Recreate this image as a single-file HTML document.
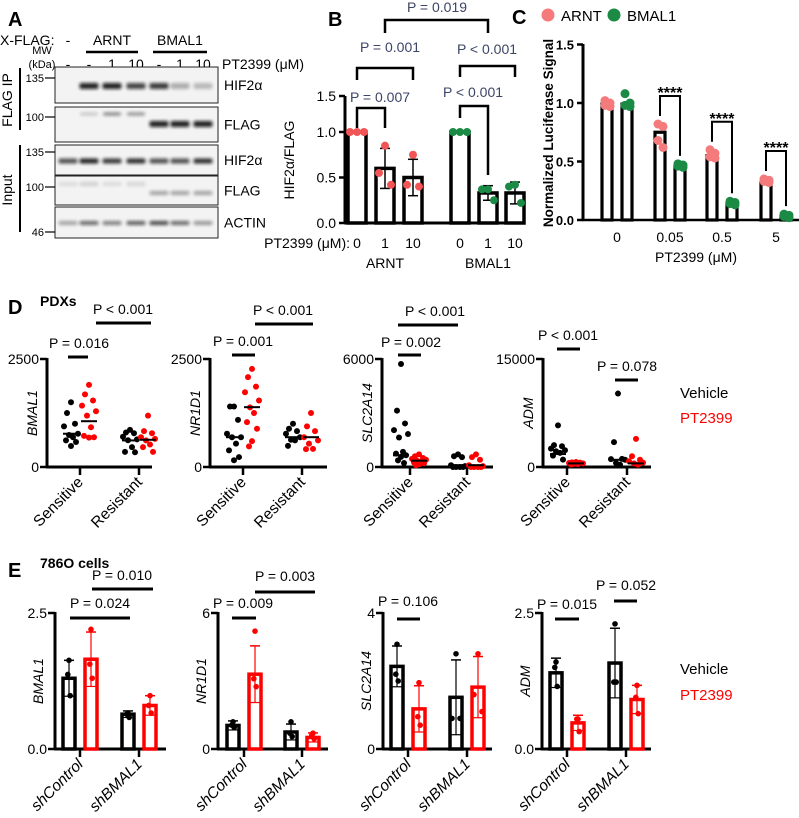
<!DOCTYPE html>
<html><head><meta charset="utf-8"><style>
body{margin:0;background:#fff}
svg{display:block;font-family:"Liberation Sans",Arial,sans-serif}
</style></head><body>
<svg id="fig" width="799" height="818" viewBox="0 0 799 818">
<defs><filter id="bl" x="-20%" y="-100%" width="140%" height="300%"><feGaussianBlur stdDeviation="1.6"/></filter></defs>
</svg>
<script>
// ===== Panel B data =====
const bCats=['0','1','10','0','1','10'];
const bMeans=[1,0.6,0.5,1,0.33,0.33];
const bErr=[0,0.22,0.2,0,0.08,0.12];
const bDots=[[1,1,1],[0.85,0.55,0.42],[0.75,0.42,0.4],[1,1,1],[0.37,0.37,0.25],[0.42,0.4,0.22]];
// ===== Panel C data =====
const cCats=['0','0.05','0.5','5'];
const cArnt=[0.99,0.75,0.55,0.32];
const cBmal=[0.99,0.46,0.14,0.03];
const cArntDots=[[1.02,1.0,0.98,0.97],[0.82,0.8,0.68,0.62],[0.6,0.57,0.54,0.53],[0.35,0.34,0.33,0.32]];
const cBmalDots=[[1.08,1.0,0.98,0.97],[0.48,0.47,0.46,0.45],[0.16,0.15,0.14,0.13],[0.05,0.04,0.03,0.02]];
// ===== Panel D data (Sensitive / Resistant; vehicle / PT2399) =====
const dGenes=['BMAL1','NR1D1','SLC2A14','ADM'];
const dMax=[2500,2500,6000,15000];
const dVehS=[[1500,1250,1000,940,770,740,690,615,580,485],[1400,1400,1090,770,690,690,540,385,230,155],[5720,3130,2420,2050,1830,1640,840,745,650,560,370,220],[5780,3030,2890,2560,2330,2190,1960,1580,1025]];
const dPtS=[[1900,1680,1540,1420,1290,1190,920,720,690,680],[2270,2080,1860,1730,1540,1380,1250,1040,885,600,477],[700,600,500,450,400,350,300,250,200,150,100],[700,650,600,550,500,450,400,350]];
const dVehR=[[860,800,780,700,640,620,460,350,340],[1000,885,830,770,690,630,615,490],[700,600,550,100,50,0,0,0,0],[10200,3450,1120,1100,1000,560,330]];
const dPtR=[[1190,830,780,690,650,615,520,460,350],[1250,940,830,690,615,540,420,415],[700,550,400,100,50,0,0,0,0],[3900,1490,1000,800,600,500,330]];
const dMedVS=[770,690,650,1800],dMedPS=[1060,1385,350,500],dMedVR=[615,690,100,1000],dMedPR=[630,690,100,500];
// ===== Panel E data =====
const eGenes=['BMAL1','NR1D1','SLC2A14','ADM'];
const eMax=[2.5,6,4,2.5];
const eTicks=[['0.0','2.5'],['0','6'],['0','4'],['0.0','2.5']];
const eGroups=['shControl','shBMAL1'];
const eVehMean=[[1.3,0.64],[1.04,0.75],[2.43,1.52],[1.4,1.58]];
const ePtMean=[[1.65,0.8],[3.3,0.51],[1.18,1.82],[0.48,0.91]];
const eVehErr=[[0.33,0.06],[0.2,0.35],[0.6,1.1],[0.27,0.64]];
const ePtErr=[[0.5,0.18],[1.25,0.2],[0.68,0.9],[0.14,0.26]];
const eVehDots=[[[1.63,1.37,0.98],[0.66,0.64,0.58]],[[1.2,1.05,0.95],[1.2,0.7,0.55]],[[3.08,2.2,2.0],[2.8,0.9,0.9]],[[1.6,1.5,1.15],[2.3,1.23,1.23]]];
const ePtDots=[[[2.2,1.56,1.3],[0.98,0.8,0.66]],[[5.2,3.1,2.75],[0.7,0.6,0.45]],[[1.95,0.95,0.7],[2.8,1.6,1.1]],[[0.55,0.55,0.32],[1.17,0.95,0.65]]];

const svg=document.getElementById('fig');
const NS='http://www.w3.org/2000/svg';
function mk(tag,attrs,parent){const e=document.createElementNS(NS,tag);for(const k in attrs)e.setAttribute(k,attrs[k]);(parent||svg).appendChild(e);return e;}
function txt(x,y,s,o,name){o=o||{};const e=mk('text',{x:x,y:y,'font-size':o.fs||14,'text-anchor':o.a||'start',fill:o.c||'#000','font-weight':o.w||'normal','font-style':o.i?'italic':'normal'});if(o.r)e.setAttribute('transform','rotate('+o.r+' '+x+' '+y+')');e.textContent=s;


return e;}
function ln(x1,y1,x2,y2,w,c,name){const e=mk('line',{x1:x1,y1:y1,x2:x2,y2:y2,stroke:c||'#000','stroke-width':w||2});


return e;}
function pl(pts,w,c,name){const e=mk('polyline',{points:pts,fill:'none',stroke:c||'#000','stroke-width':w||2});


return e;}
function dot(x,y,r,c,name){const e=mk('circle',{cx:x,cy:y,r:r,fill:c});


return e;}

// ===== Panel A (western blot) =====
txt(8,26,'A',{fs:20,w:'bold'},'panel-a-label');
txt(0,45,'X-FLAG:',{fs:14},'x-flag-label');
const laneX=[68,89,112,136,159,180,203];
txt(68,45,'-',{a:'middle'},'lane-label');
txt(112,45,'ARNT',{a:'middle'},'arnt-group-label');ln(86,52,138,52,2.5,'#000','arnt-group-line');
txt(180,45,'BMAL1',{a:'middle'},'bmal1-group-label');ln(153,52,207,52,2.5,'#000','bmal1-group-line');
txt(42,54,'MW',{a:'middle',fs:11},'mw-label');txt(42,68,'(kDa)',{a:'middle',fs:11},'kda-label');
['-','-','1','10','-','1','10'].forEach((s,i)=>txt(laneX[i],69,s,{a:'middle'},'dose-label'));
txt(222,69,'PT2399 (μM)',{fs:14},'pt2399-dose-label');
const rows=[[67,103,'HIF2α'],[107,142,'FLAG'],[145,175,'HIF2α'],[176,205,'FLAG'],[207,238,'ACTIN']];
rows.forEach((r,i)=>{const e=mk('rect',{x:55,y:r[0],width:163,height:r[1]-r[0],fill:'#f3f3f3',stroke:'#222','stroke-width':1});


txt(224,(r[0]+r[1])/2+5,r[2],{fs:14},'blot-row-label');});
function band(x,y,w,h,op){const e=mk('rect',{x:x-w/2,y:y-h/2,width:w,height:h,rx:2,fill:'#111',opacity:op,filter:'url(#bl)'});

}
[0,0.9,0.9,0.75,0.8,0.3,0.25].forEach((o,i)=>o&&band(laneX[i],86,19,6,o));
[0,0.2,0.5,0.45].forEach((o,i)=>o&&band(laneX[i],114,18,3,o));
[0.9,0.9,0.9].forEach((o,i)=>band(laneX[4+i],124,19,6,o));
[0.7,0.9,0.8,0.85,0.7,0.7,0.85].forEach((o,i)=>band(laneX[i],161,19,5,o));
[0.1,0.15,0.1,0.12,0.35,0.35,0.35].forEach((o,i)=>band(laneX[i],i>3?193:184,19,4,o));
[0.35,0.6,0.5,0.65,0.75,0.6,0.4].forEach((o,i)=>band(laneX[i],223,19,4,o));
[[78,'135'],[117,'100'],[152,'135'],[187,'100'],[232,'46']].forEach(m=>{ln(45,m[0],55,m[0],1.2,'#000','mw-tick');txt(44,m[0]+4,m[1],{a:'end',fs:11},'mw-value');});
ln(20,68,20,130,2,'#000','flag-ip-line');txt(12,100,'FLAG IP',{a:'middle',r:-90,fs:14},'flag-ip-label');
ln(20,145,20,232,2,'#000','input-line');txt(12,190,'Input',{a:'middle',r:-90,fs:14},'input-label');

// ===== Panel B =====
txt(328,26,'B',{fs:20,w:'bold'},'panel-b-label');
const bY=v=>223-v*91;
const bX=[357,385,413,460,488,515];
ln(345,96,345,224,3,'#000','b-y-axis');ln(344,223,525,223,3,'#000','b-x-axis');
[[0,'0.0'],[0.5,'0.5'],[1,'1.0']].forEach(t=>{ln(339,bY(t[0]),345,bY(t[0]),2.5,'#000','b-y-tick');txt(336,bY(t[0])+5,t[1],{a:'end'},'b-y-tick-label');});
ln(339,96,345,96,2.5,'#000','b-y-tick');txt(336,101,'1.5',{a:'end'},'b-y-tick-label');
txt(294,160,'HIF2α/FLAG',{a:'middle',r:-90,fs:14},'b-y-axis-title');
bMeans.forEach((m,i)=>{const x=bX[i];const r=mk('rect',{x:x-9,y:bY(m),width:18,height:bY(0)-bY(m),fill:'#fff',stroke:'#000','stroke-width':3.5});


if(bErr[i]){ln(x,bY(m+bErr[i]),x,bY(m-bErr[i]),1.5,'#000','b-error-bar');ln(x-5,bY(m+bErr[i]),x+5,bY(m+bErr[i]),1.5,'#000','b-error-cap');ln(x-5,bY(m-bErr[i]),x+5,bY(m-bErr[i]),1.5,'#000','b-error-cap');}
const col=i<3?'#f25556':'#1a8a45';
bDots[i].forEach((v,j)=>dot(x+(bDots[i].every(d=>d===1)?(j-1)*7:(j===1?-6:(j===2?6:0))),bY(v),4,col,'b-dot'));
txt(x,248,bCats[i],{a:'middle'},'b-x-tick-label');});
txt(350,248,'PT2399 (μM):',{a:'end'},'b-x-prefix');
txt(385,268,'ARNT',{a:'middle'},'b-group-arnt');txt(488,268,'BMAL1',{a:'middle'},'b-group-bmal1');
const pc='#3c4566';
txt(380,102,'P = 0.007',{a:'middle',c:pc},'b-pvalue');pl('357,128 357,108 385,108 385,128',2.5,'#000','b-bracket');
txt(390,52,'P = 0.001',{a:'middle',c:pc},'b-pvalue');pl('357,80 357,68 413,68 413,80',2.5,'#000','b-bracket');
txt(437,12,'P = 0.019',{a:'middle',c:pc},'b-pvalue');pl('385,33 385,20 488,20 488,33',2.5,'#000','b-bracket');
txt(487,54,'P < 0.001',{a:'middle',c:pc},'b-pvalue');pl('460,77 460,66 515,66 515,77',2.5,'#000','b-bracket');
txt(473,97,'P < 0.001',{a:'middle',c:pc},'b-pvalue');pl('460,118 460,106 488,106 488,175',2.5,'#000','b-bracket');

// ===== Panel C =====
txt(512,24,'C',{fs:20,w:'bold'},'panel-c-label');
dot(548,15,6.5,'#f47a7b','legend-arnt-marker');txt(561,21,'ARNT',{fs:15},'legend-arnt');
dot(614,15,6.5,'#1a8a45','legend-bmal1-marker');txt(627,21,'BMAL1',{fs:15},'legend-bmal1');
const cY=v=>220-v*117;const cX=[617,670,722,776];
ln(583,44,583,221,3,'#000','c-y-axis');ln(582,220,799,220,2.5,'#000','c-x-axis');
[[0,'0.0'],[0.5,'0.5'],[1,'1.0'],[1.5,'1.5']].forEach(t=>{ln(577,cY(t[0]),583,cY(t[0]),2.5,'#000','c-y-tick');txt(574,cY(t[0])+5,t[1],{a:'end',w:'bold',fs:13},'c-y-tick-label');});
txt(553,133,'Normalized Luciferase Signal',{a:'middle',r:-90,w:'bold',fs:13.5},'c-y-axis-title');
cCats.forEach((c,i)=>{
 [[cArnt,cArntDots,-10,'#f47a7b','c-bar-arnt'],[cBmal,cBmalDots,10,'#1a8a45','c-bar-bmal1']].forEach(s=>{const x=cX[i]+s[2];const v=s[0][i];
 const r=mk('rect',{x:x-5,y:cY(v),width:10,height:cY(0)-cY(v),fill:'#fff',stroke:'#000','stroke-width':3.2});
 
 
 s[1][i].forEach((d,j)=>dot(x+(j%2?3:-2),cY(d),4.5,s[3],'c-dot'));});
 txt(cX[i],242,c,{a:'middle'},'c-x-tick-label');
 if(i>0){const top=cY(Math.max(...cArntDots[i]))-28;const yA=cY(Math.max(...cArntDots[i]))-8;const yB=cY(Math.max(...cBmalDots[i]))-8;
  pl((cX[i]-10)+','+yA+' '+(cX[i]-10)+','+top+' '+(cX[i]+10)+','+top+' '+(cX[i]+10)+','+yB,2,'#000','c-bracket');
  txt(cX[i],top+2,'****',{a:'middle',w:'bold',fs:16},'c-significance');}
});
txt(696,262,'PT2399 (μM)',{a:'middle'},'c-x-axis-title');

// ===== Panel D =====
txt(8,314,'D',{fs:20,w:'bold'},'panel-d-label');txt(40,306,'PDXs',{fs:14,w:'bold'},'pdxs-title');
const dAx=[[47,80,139,152],[210,243,302,327],[382,410,467,493],[543,567,627,651]];
const dY0=467,dTop=359;
function jit(j){return [0,-4,4,-7,7,-2,2,-5,5,0,-3,3][j%12];}
dGenes.forEach((g,k)=>{const a=dAx[k];const y=v=>dY0-v/dMax[k]*(dY0-dTop);
 ln(a[0],dTop-1,a[0],dY0+1,3,'#000','d-y-axis');ln(a[0]-1,dY0,a[3],dY0,3,'#000','d-x-axis');
 ln(a[0]-7,dTop,a[0],dTop,2.5,'#000','d-y-tick');ln(a[0]-7,dY0,a[0],dY0,2.5,'#000','d-y-tick');
 txt(a[0]-8,dTop+5,String(dMax[k]),{a:'end'},'d-y-tick-label');txt(a[0]-8,dY0+5,'0',{a:'end'},'d-y-tick-label');
 txt(a[0]-10,413,g,{a:'middle',r:-90,i:true},'d-y-axis-title');
 [[a[1],'Sensitive'],[a[2],'Resistant']].forEach(t=>{ln(t[0],dY0,t[0],dY0+8,2.5,'#000','d-x-tick');txt(t[0]+4,dY0+16,t[1],{a:'end',r:-45,fs:15.5},'d-x-tick-label');});
 [[dVehS[k],a[1]-9,'#000',dMedVS[k]],[dPtS[k],a[1]+9,'#f00',dMedPS[k]],[dVehR[k],a[2]-9,'#000',dMedVR[k]],[dPtR[k],a[2]+9,'#f00',dMedPR[k]]].forEach(s=>{
  s[0].forEach((v,j)=>dot(s[1]+jit(j),y(v),3,s[2],'d-dot'));ln(s[1]-8,y(s[3]),s[1]+8,y(s[3]),2,'#000','d-median-line');});
});
txt(79,348,'P = 0.016',{a:'middle'},'d-pvalue');ln(68,357,88,357,3,'#000','d-sig-line');
txt(123,314,'P < 0.001',{a:'middle'},'d-pvalue');ln(96,323,151,323,3,'#000','d-sig-line');
txt(243,346,'P = 0.001',{a:'middle'},'d-pvalue');ln(232,355,255,355,3,'#000','d-sig-line');
txt(283,315,'P < 0.001',{a:'middle'},'d-pvalue');ln(255,324,313,324,3,'#000','d-sig-line');
txt(411,347,'P = 0.002',{a:'middle'},'d-pvalue');ln(398,355,421,355,3,'#000','d-sig-line');
txt(435,316,'P < 0.001',{a:'middle'},'d-pvalue');ln(398,325,458,325,3,'#000','d-sig-line');
txt(568,340,'P < 0.001',{a:'middle'},'d-pvalue');ln(557,349,580,349,3,'#000','d-sig-line');
txt(627,371,'P = 0.078',{a:'middle'},'d-pvalue');ln(615,380,638,380,3,'#000','d-sig-line');
txt(680,398,'Vehicle',{fs:15},'d-legend-vehicle');txt(680,423,'PT2399',{fs:15,c:'#f00'},'d-legend-pt2399');

// ===== Panel E =====
txt(8,577,'E',{fs:20,w:'bold'},'panel-e-label');txt(40,568,'786O cells',{fs:14,w:'bold'},'786o-title');
const eAx=[[55,80,139,166],[218,244,302,328],[383,408,467,492],[542,567,626,651]];
const eY0=749,eTop=613;
eGenes.forEach((g,k)=>{const a=eAx[k];const y=v=>eY0-v/eMax[k]*(eY0-eTop);
 ln(a[0],eTop-1,a[0],eY0+1,3,'#000','e-y-axis');ln(a[0]-1,eY0,a[3],eY0,3,'#000','e-x-axis');
 ln(a[0]-7,eTop,a[0],eTop,2.5,'#000','e-y-tick');ln(a[0]-7,eY0,a[0],eY0,2.5,'#000','e-y-tick');
 txt(a[0]-8,eTop+5,eTicks[k][1],{a:'end'},'e-y-tick-label');txt(a[0]-8,eY0+5,eTicks[k][0],{a:'end'},'e-y-tick-label');
 txt(a[0]-12,681,g,{a:'middle',r:-90,i:true},'e-y-axis-title');
 [a[1],a[2]].forEach((tx,gi)=>{ln(tx,eY0,tx,eY0+8,2.5,'#000','e-x-tick');txt(tx+4,eY0+16,eGroups[gi],{a:'end',r:-45,i:true,fs:15.5},'e-x-tick-label');
  [[eVehMean,eVehErr,eVehDots,-11,'#000','e-bar-vehicle'],[ePtMean,ePtErr,ePtDots,11,'#f00','e-bar-pt2399']].forEach(s=>{const x=tx+s[3];const m=s[0][k][gi],er=s[1][k][gi];
   const r=mk('rect',{x:x-6,y:y(m),width:12,height:eY0-y(m),fill:'#fff',stroke:s[4],'stroke-width':3.5});
   
   
   ln(x,y(m+er),x,y(Math.max(0,m-er)),1.2,s[4],'e-error-bar');ln(x-5,y(m+er),x+5,y(m+er),1.5,s[4],'e-error-cap');ln(x-5,y(m-er),x+5,y(m-er),1.2,s[4],'e-error-cap');
   s[2][k][gi].forEach((d,j)=>dot(x+(j===0?0:(j===1?-4:4))*(k===2&&gi===1?1:0.3),y(d),2.8,s[4],'e-dot'));});
 });
});
txt(100,608,'P = 0.024',{a:'middle'},'e-pvalue');ln(70,618,130,618,3,'#000','e-sig-line');
txt(122,580,'P = 0.010',{a:'middle'},'e-pvalue');ln(92,589,153,589,3,'#000','e-sig-line');
txt(243,608,'P = 0.009',{a:'middle'},'e-pvalue');ln(232,618,256,618,3,'#000','e-sig-line');
txt(285,581,'P = 0.003',{a:'middle'},'e-pvalue');ln(255,592,315,592,3,'#000','e-sig-line');
txt(408,606,'P = 0.106',{a:'middle'},'e-pvalue');ln(397,619,420,619,3,'#000','e-sig-line');
txt(567,609,'P = 0.015',{a:'middle'},'e-pvalue');ln(555,619,579,619,3,'#000','e-sig-line');
txt(626,590,'P = 0.052',{a:'middle'},'e-pvalue');ln(614,601,637,601,3,'#000','e-sig-line');
txt(680,674,'Vehicle',{fs:15},'e-legend-vehicle');txt(680,700,'PT2399',{fs:15,c:'#f00'},'e-legend-pt2399');
</script>
</body></html>
